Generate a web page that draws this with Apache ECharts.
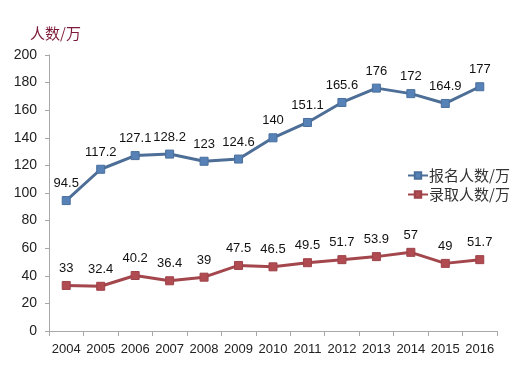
<!DOCTYPE html>
<html><head><meta charset="utf-8">
<script src="https://cdn.jsdelivr.net/npm/echarts@6/dist/echarts.min.js"></script>
<style>html,body{margin:0;padding:0;background:#fff}#c{width:525px;height:368px}</style>
</head><body><div id="c"></div>
<script>
var years = ['2004','2005','2006','2007','2008','2009','2010','2011','2012','2013','2014','2015','2016'];
var applicants = [94.5,117.2,127.1,128.2,123,124.6,140,151.1,165.6,176,172,164.9,177];
var admitted = [33,32.4,40.2,36.4,39,47.5,46.5,49.5,51.7,53.9,57,49,51.7];
var yTicks = {min:0, max:200, interval:20};

var chart = echarts.init(document.getElementById('c'));
var font = 'Liberation Sans, Noto Sans CJK SC, sans-serif';
chart.setOption({
  backgroundColor:'#fff',
  animation:false,
  title:{text:'人数/万', left:25, top:21, textStyle:{fontFamily:'Noto Sans CJK SC', fontSize:15, fontWeight:'normal', color:'#7d1c3a'}},
  legend:{
    orient:'vertical', left:402, top:163, itemGap:4, itemWidth:20, itemHeight:8,
    textStyle:{fontFamily:'Noto Sans CJK SC', fontSize:15, color:'#333', padding:[0,0,0,-4]},
    data:['报名人数/万','录取人数/万']
  },
  grid:{left:49, right:28, top:55, bottom:37},
  xAxis:{
    type:'category', data:years, boundaryGap:true,
    axisLine:{lineStyle:{color:'#a8a8a8', width:1}},
    axisTick:{show:true, alignWithLabel:false, length:5, inside:false, lineStyle:{color:'#a8a8a8'}},
    axisLabel:{fontFamily:font, fontSize:13, color:'#222', margin:12, interval:0}
  },
  yAxis:{
    type:'value', min:yTicks.min, max:yTicks.max, interval:yTicks.interval,
    axisLine:{show:true, lineStyle:{color:'#a8a8a8'}},
    axisTick:{show:true, length:4, lineStyle:{color:'#a8a8a8'}},
    splitLine:{show:false},
    axisLabel:{fontFamily:font, fontSize:14, color:'#222', margin:12}
  },
  series:[
    {name:'报名人数/万', type:'line', data:applicants, symbol:'rect', symbolSize:8,
     lineStyle:{color:'#4d6e96', width:3}, itemStyle:{color:'#5682b8', borderColor:'#4a6f9c', borderWidth:1},
     label:{show:true, position:'top', distance:6, fontFamily:font, fontSize:13, color:'#111'}},
    {name:'录取人数/万', type:'line', data:admitted, symbol:'rect', symbolSize:8,
     lineStyle:{color:'#a3474d', width:3}, itemStyle:{color:'#b04b52', borderColor:'#9e4249', borderWidth:1},
     label:{show:true, position:'top', distance:6, fontFamily:font, fontSize:13, color:'#111'}}
  ]
});
</script></body></html>
